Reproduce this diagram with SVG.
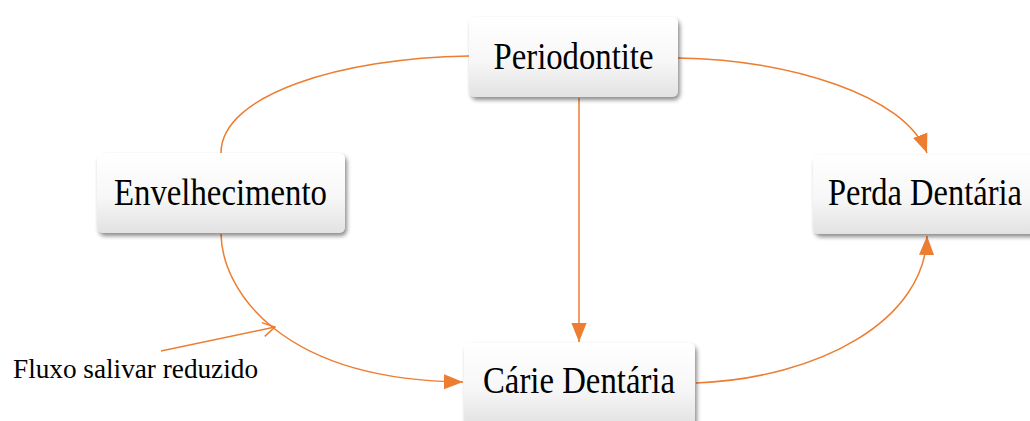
<svg xmlns="http://www.w3.org/2000/svg" width="1030" height="421" viewBox="0 0 1030 421">
<defs>
<linearGradient id="g" x1="0" y1="0" x2="0" y2="1">
<stop offset="0" stop-color="#ffffff"/>
<stop offset="0.55" stop-color="#f7f7f7"/>
<stop offset="1" stop-color="#e2e2e2"/>
</linearGradient>
<filter id="sh" x="-10%" y="-20%" width="125%" height="150%">
<feDropShadow dx="2" dy="3" stdDeviation="2.2" flood-color="#000" flood-opacity="0.45"/>
</filter>
<marker id="ah" viewBox="0 0 10 10" refX="10" refY="5" markerWidth="10" markerHeight="10" markerUnits="userSpaceOnUse" orient="auto">
<path d="M0,0 L10,5 L0,10 Z" fill="#ED7D31"/>
</marker>
<marker id="ahBig" viewBox="0 0 20 16" refX="20" refY="8" markerWidth="19" markerHeight="16" markerUnits="userSpaceOnUse" orient="auto">
<path d="M0,0 L20,8 L0,16 Z" fill="#ED7D31"/>
</marker>
<marker id="open" viewBox="0 0 14 16" refX="13" refY="8" markerWidth="14" markerHeight="16" markerUnits="userSpaceOnUse" orient="auto">
<path d="M1,1 L13,8 L1,15" fill="none" stroke="#ED7D31" stroke-width="1.5"/>
</marker>
</defs>
<style>
.box{fill:url(#g);filter:url(#sh);}
.lbl{font-family:"Liberation Serif","Times New Roman",serif;font-size:37px;fill:#000;text-anchor:middle;}
.c{fill:none;stroke:#ED7D31;stroke-width:1.5;}
</style>
<rect width="1030" height="421" fill="#fff"/>
<g id="connectors">
<path class="c" d="M221,153 C221,95 340,58 469,56"/>
<path class="c" d="M678,58 C790,60 905,95 927,153" marker-end="url(#ahBig)"/>
<path class="c" d="M579,98 L579,342" marker-end="url(#ahBig)"/>
<path class="c" d="M221,234 C222,290 280,380 463,382" marker-end="url(#ahBig)"/>
<path class="c" d="M696,383 C820,378 925,320 927,236" marker-end="url(#ahBig)"/>
<path class="c" d="M161,351 L275,327" marker-end="url(#open)"/>
</g>
<g id="periodontite">
<rect class="box" x="469" y="17" width="209" height="80" rx="6"/>
<text class="lbl" x="573.5" y="69" textLength="160" lengthAdjust="spacingAndGlyphs">Periodontite</text>
</g>
<g id="envelhecimento">
<rect class="box" x="97" y="153" width="248" height="80" rx="6"/>
<text class="lbl" x="220.5" y="205" textLength="213" lengthAdjust="spacingAndGlyphs">Envelhecimento</text>
</g>
<g id="perda">
<rect class="box" x="813" y="155" width="226" height="79" rx="6"/>
<text class="lbl" x="925" y="205" textLength="194" lengthAdjust="spacingAndGlyphs">Perda Dentária</text>
</g>
<g id="carie">
<rect class="box" x="464" y="343" width="231" height="82" rx="6"/>
<text class="lbl" x="579" y="393" textLength="192" lengthAdjust="spacingAndGlyphs">Cárie Dentária</text>
</g>
<g id="fluxo">
<text x="13" y="378" font-family="Liberation Serif, Times New Roman, serif" font-size="28" textLength="245" lengthAdjust="spacingAndGlyphs">Fluxo salivar reduzido</text>
</g>
</svg>
